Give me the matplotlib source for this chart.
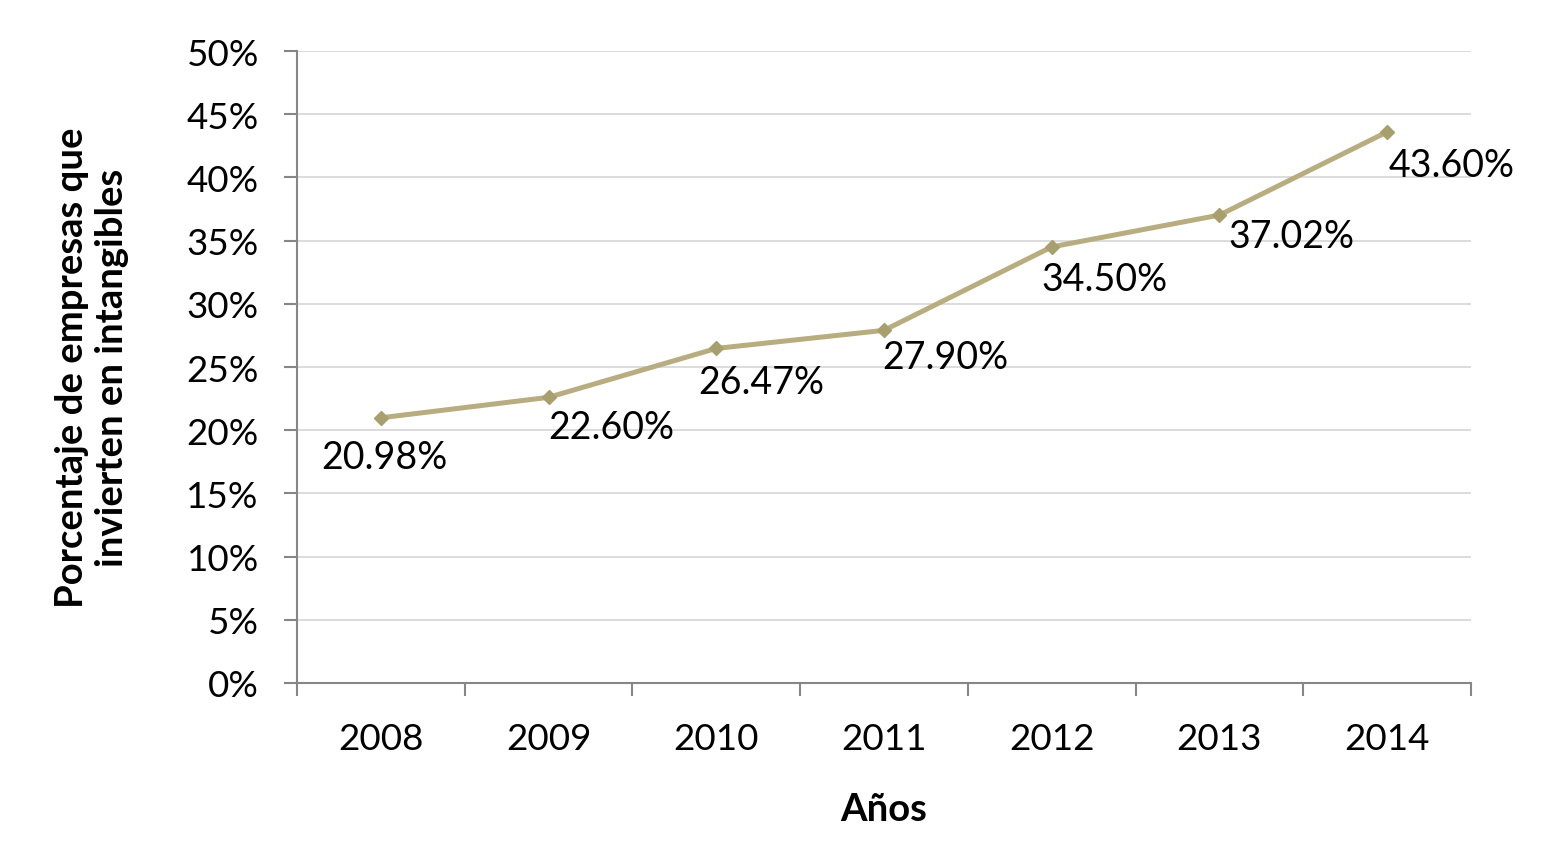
import numpy as np
import matplotlib
matplotlib.use('Agg')
import matplotlib.pyplot as plt
from matplotlib.ticker import FixedLocator, NullFormatter

years = ['2008', '2009', '2010', '2011', '2012', '2013', '2014']
pct = [20.98, 22.60, 26.47, 27.90, 34.50, 37.02, 43.60]
yticks = [0, 5, 10, 15, 20, 25, 30, 35, 40, 45, 50]

# manual label offsets (pixels), as placed in the original
label_offsets = [(4, -39), (63, -30), (45, -34), (61, -27), (53, -32), (72, -21), (64, -33)]

plt.rcParams['font.family'] = ['Lato', 'DejaVu Sans']

fig = plt.figure(figsize=(15.53, 8.54), dpi=100)
ax = fig.add_axes([297/1553, 1 - 684/854, 1174/1553, 632/854])

x = np.arange(len(years))
ax.plot(x, pct, '-', color='#B8AD80', lw=3.6, zorder=3)
ax.plot(x, pct, 'D', color='#A89F6E', ms=7, zorder=4)

for xi, v, (dx, dy) in zip(x, pct, label_offsets):
    ax.annotate(f'{v:.2f}%', (xi, v), xytext=(dx, dy), textcoords='offset pixels',
                ha='center', va='center', fontsize=27, color='black')

ax.set_xlim(-0.5, len(years) - 0.5)
ax.set_ylim(0, 50)
ax.set_yticks(yticks)
ax.set_yticklabels([f'{t}%' for t in yticks])

ax.xaxis.set_major_locator(FixedLocator(np.arange(-0.5, len(years), 1)))
ax.xaxis.set_major_formatter(NullFormatter())
ax.xaxis.set_minor_locator(FixedLocator(x))
ax.set_xticklabels(years, minor=True)
ax.tick_params(axis='x', which='major', length=9.5, width=1.5, color='#868686')
ax.tick_params(axis='x', which='minor', length=0, pad=28, labelsize=26.5)
ax.tick_params(axis='y', length=9.5, width=1.5, color='#868686', pad=18, labelsize=26.5)

ax.grid(axis='y', color='#D9D9D9', lw=1.3)
ax.set_axisbelow(True)
for s in ['top', 'right']:
    ax.spines[s].set_visible(False)
for s in ['left', 'bottom']:
    ax.spines[s].set_color('#868686')
    ax.spines[s].set_linewidth(1.5)

ax.set_xlabel('Años', fontsize=27.5, fontweight='bold', va='center')
ax.xaxis.set_label_coords(0.5, (684 - 810) / 632)
ax.set_ylabel('Porcentaje de empresas que\ninvierten en intangibles', fontsize=27.5,
              fontweight='bold', va='center', linespacing=1.2)
ax.yaxis.set_label_coords((92 - 297) / 1174, 0.5)

fig.savefig('out.png', dpi=100)
